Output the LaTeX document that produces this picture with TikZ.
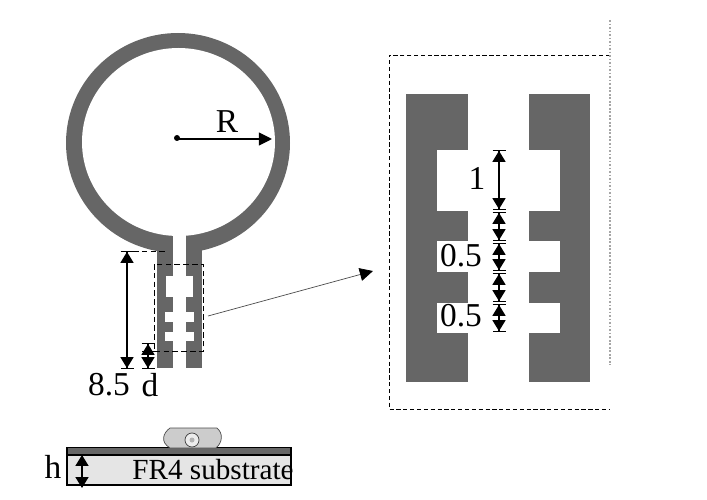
\documentclass[tikz,border=0pt]{standalone}
\usepackage{fontspec}
\setmainfont{Liberation Serif}
\usetikzlibrary{arrows.meta}
\definecolor{metal}{gray}{0.4}
\definecolor{fr4}{gray}{0.9}
\tikzset{
    metalfill/.style={fill=metal, draw=none},
    gapfill/.style={fill=white, draw=none},
    dimline/.style={line width=0.6pt, {Bar[width=7.4pt,line width=0.5pt]Triangle[length=6.2pt,width=7.4pt]}-{Triangle[length=6.2pt,width=7.4pt]Bar[width=7.4pt,line width=0.5pt]}},
    dimtext/.style={font=\fontsize{19pt}{20pt}\selectfont, inner sep=0pt},
    zoombox/.style={dash pattern=on 2.4pt off 1.5pt, line width=0.55pt},
    feedbox/.style={dash pattern=on 3.2pt off 1.8pt, line width=0.55pt}
}
\begin{document}
\begin{tikzpicture}[x=0.02cm, y=-0.02cm]
    \useasboundingbox (0,0) rectangle (707,500);

    % Ring and feed strips
    \fill[metal] (178,143) ellipse (112 and 110);
    \fill[gapfill] (178.5,142) ellipse (96.5 and 94);
    \fill[metalfill] (157,245) rectangle (173,368);
    \fill[metalfill] (186,245) rectangle (202,368);
    \fill[gapfill] (173,225) rectangle (186,256);

    % Slots in the small feed
    \foreach \ya/\yb/\xa/\xb in {276/297/166/193, 312/322/165/194, 332/341/165/194} {
        \fill[gapfill] (\xa,\ya) rectangle (173,\yb);
        \fill[gapfill] (186,\ya) rectangle (\xb,\yb);
    }

    % Radius
    \coordinate (center) at (177,139);
    \coordinate (rim) at (272,139);
    \fill (center) ++(0,-1) circle (3);
    \draw[-{Triangle[length=7.5pt,width=7.4pt]}, line width=0.7pt] (center) -- (rim);
    \node[dimtext] (labelR) at (227,122) {R};

    % Dashed box round the feed
    \draw[feedbox] (154,264) rectangle (203,351);
    \draw[feedbox] (133,251) -- (168,251);
    \draw[line width=0.5pt] (142,351) -- (155,351);

    % Feed dimensions
    \coordinate (lenTop) at (127,251);
    \coordinate (lenBot) at (127,369);
    \coordinate (dTop) at (148,343);
    \coordinate (dBot) at (148,369);
    \draw[dimline] (lenTop) -- (lenBot);
    \draw[dimline] (dTop) -- (dBot);
    \node[dimtext] (label85) at (109,385) {8.5};
    \node[dimtext] (labeld) at (150,385) {d};

    % Pointer to the enlarged view
    \coordinate (zoomFrom) at (208,316);
    \coordinate (zoomTo) at (373,271);
    \draw[black!70, -{Triangle[length=7.5pt,width=7.4pt,color=black]}, line width=0.4pt] (zoomFrom) -- (zoomTo);

    % Enlarged view
    \draw[zoombox] (610,55) -- (389,55) -- (389,409) -- (610,409);
    \draw[gray!70, densely dotted, line width=1pt] (610,20) -- (610,365);
    \fill[metalfill] (406,94) rectangle (468,382);
    \fill[metalfill] (529,94) rectangle (590,382);
    \foreach \ya/\yb in {150/211, 241/272, 303/333} {
        \fill[gapfill] (437,\ya) rectangle (468,\yb);
        \fill[gapfill] (529,\ya) rectangle (560,\yb);
    }

    % Enlarged view dimensions
    \foreach \name/\ya/\yb in {a/150/210, b/212/241, c/243/271, e/273/302, f/304/332} {
        \coordinate (\name Top) at (499,\ya);
        \coordinate (\name Bot) at (499,\yb);
        \draw[dimline] (\name Top) -- (\name Bot);
    }
    \node[dimtext] (labelOne) at (477,178) {1};
    \node[dimtext] (labelHalfA) at (461,256) {0.5};
    \node[dimtext] (labelHalfB) at (461,316) {0.5};

    % Substrate
    \fill[fr4] (67,454) rectangle (291,484);
    \draw[line width=1.1pt] (67,455) rectangle (291,485);
    \filldraw[fill=metal, draw=black, line width=0.6pt] (67,447.5) rectangle (291,455);

    % Connector on top
    \filldraw[fill=gray!40, draw=gray!60!black, line width=0.4pt]
        (170,448) .. controls (160,442) and (163,433) .. (170,428)
        -- (217,428) .. controls (223,433) and (223,442) .. (216,448) -- cycle;
    \draw[fill=gray!15, draw=gray!50!black, line width=0.4pt] (192,440) circle (7);
    \fill[gray!60] (192,440) circle (2.5);

    % Substrate dimension
    \coordinate (hTop) at (82,455);
    \coordinate (hBot) at (82,488);
    \draw[{Triangle[length=6.2pt,width=7.4pt]}-{Triangle[length=6.2pt,width=7.4pt]}, line width=0.7pt] (hTop) -- (hBot);
    \node[dimtext] (labelh) at (53,467) {h};
    \node[font=\fontsize{16.6pt}{18pt}\selectfont, inner sep=0pt] (labelFR) at (213,470) {FR4 substrate};
\end{tikzpicture}
\end{document}
